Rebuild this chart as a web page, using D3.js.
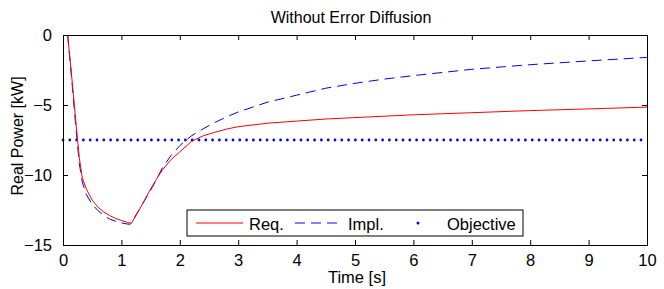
<!DOCTYPE html>
<html>
<head>
<meta charset="utf-8">
<script src="https://cdn.jsdelivr.net/npm/d3@7"></script>
<style>
  body { margin: 0; background: #fff; }
  text { font-family: "Liberation Sans", Arial, sans-serif; fill: #000; }
</style>
</head>
<body>
<svg id="chart"></svg>
<script>
// Data
var reqT = [0.08, 0.15, 0.22, 0.28, 0.33, 0.4, 0.5, 0.6, 0.7, 0.8, 0.9, 1.0, 1.1, 1.17,
            1.25, 1.37, 1.5, 1.6, 1.71, 1.85, 2.0, 2.2, 2.4, 2.6, 2.8, 3.0, 3.5, 4, 4.5, 5, 6, 7, 8, 9, 10];
var reqV = [0, -3, -6.2, -8.8, -10.2, -11, -11.8, -12.3, -12.65, -12.9, -13.1, -13.25, -13.38, -13.45,
            -12.9, -12.0, -11.0, -10.3, -9.6, -8.9, -8.35, -7.6, -7.2, -6.95, -6.72, -6.55, -6.3, -6.15, -6.0, -5.9, -5.7, -5.55, -5.4, -5.28, -5.15];

var implT = [0.08, 0.15, 0.22, 0.28, 0.33, 0.4, 0.5, 0.6, 0.7, 0.8, 0.9, 1.0, 1.1, 1.15,
             1.2, 1.3, 1.4, 1.54, 1.7, 1.85, 2.0, 2.2, 2.4, 2.6, 2.8, 3.0, 3.5, 4, 4.5, 5, 5.5, 6, 7, 8, 9, 10];
var implV = [0, -3.2, -6.6, -9.2, -10.5, -11.4, -12.1, -12.55, -12.9, -13.15, -13.3, -13.42, -13.5, -13.52,
             -13.2, -12.5, -11.8, -10.8, -9.5, -8.6, -7.9, -7.2, -6.7, -6.25, -5.85, -5.5, -4.8, -4.3, -3.8, -3.45, -3.15, -2.9, -2.45, -2.12, -1.85, -1.6];

var objT = [0, 10];
var objV = [-7.5, -7.5];

var xTicks = [0, 1, 2, 3, 4, 5, 6, 7, 8, 9, 10];
var yTicks = [0, -5, -10, -15];

var width = 664, height = 289;
var margin = {top: 35, right: 17, bottom: 44, left: 63};

var svg = d3.select("#chart")
            .attr("width", width)
            .attr("height", height);

var x = d3.scaleLinear().domain([0, 10]).range([margin.left, width - margin.right]);
var y = d3.scaleLinear().domain([-15, 0]).range([height - margin.bottom, margin.top]);

function pts(ts, vs) {
    return ts.map(function(t, i) { return [t, vs[i]]; });
}

var line = d3.line()
             .x(function(d) { return x(d[0]); })
             .y(function(d) { return y(d[1]); });

// Objective (dotted)
svg.append("path")
   .attr("d", line(pts(objT, objV)))
   .attr("fill", "none")
   .attr("stroke", "#0000ff")
   .attr("stroke-width", 2.8)
   .attr("stroke-linecap", "round")
   .attr("stroke-dasharray", "0 6.8");

// Impl. (dashed blue)
svg.append("path")
   .attr("d", line(pts(implT, implV)))
   .attr("fill", "none")
   .attr("stroke", "#0000ff")
   .attr("stroke-width", 1)
   .attr("stroke-dasharray", "10 6");

// Req. (solid red)
svg.append("path")
   .attr("d", line(pts(reqT, reqV)))
   .attr("fill", "none")
   .attr("stroke", "#ff0000")
   .attr("stroke-width", 1);

// Axes: ticks inward on all four sides
var fmt = function(d) { return d3.format("")(d).replace("-", "\u2212"); };

svg.append("g")
   .attr("transform", "translate(0," + y.range()[0] + ")")
   .call(d3.axisBottom(x).tickValues(xTicks).tickSizeInner(-5).tickSizeOuter(0).tickPadding(9).tickFormat(fmt))
   .call(function(g) { g.selectAll("text").attr("font-size", "16.5px").attr("dy", "0.71em"); });

svg.append("g")
   .attr("transform", "translate(0," + y.range()[1] + ")")
   .call(d3.axisTop(x).tickValues(xTicks).tickSizeInner(-5).tickSizeOuter(0).tickFormat(""));

svg.append("g")
   .attr("transform", "translate(" + x.range()[0] + ",0)")
   .call(d3.axisLeft(y).tickValues(yTicks).tickSizeInner(-5).tickSizeOuter(0).tickPadding(11).tickFormat(fmt))
   .call(function(g) { g.selectAll("text").attr("font-size", "16.5px"); });

svg.append("g")
   .attr("transform", "translate(" + x.range()[1] + ",0)")
   .call(d3.axisRight(y).tickValues(yTicks).tickSizeInner(-5).tickSizeOuter(0).tickFormat(""));

svg.selectAll(".domain").attr("stroke", "#000");
svg.selectAll(".tick line").attr("stroke", "#000");
svg.selectAll("g").attr("font-family", null);

// Title and axis labels
svg.append("text")
   .attr("x", (x.range()[0] + x.range()[1]) / 2 - 4)
   .attr("y", 23)
   .attr("text-anchor", "middle")
   .attr("font-size", "16px")
   .text("Without Error Diffusion");

svg.append("text")
   .attr("x", (x.range()[0] + x.range()[1]) / 2 + 2)
   .attr("y", 283)
   .attr("text-anchor", "middle")
   .attr("font-size", "16.5px")
   .text("Time [s]");

svg.append("text")
   .attr("transform", "translate(23," + 136 + ") rotate(-90)")
   .attr("text-anchor", "middle")
   .attr("font-size", "16px")
   .text("Real Power [kW]");

// Legend
var legend = svg.append("g").attr("transform", "translate(187,210)");
legend.append("rect")
      .attr("width", 336).attr("height", 26)
      .attr("fill", "#fff").attr("stroke", "#000").attr("stroke-width", 1);

legend.append("line").attr("x1", 9).attr("x2", 56).attr("y1", 13).attr("y2", 13)
      .attr("stroke", "#ff0000").attr("stroke-width", 1);
legend.append("text").attr("x", 62).attr("y", 19.5).attr("font-size", "16.5px").text("Req.");

legend.append("line").attr("x1", 108).attr("x2", 155).attr("y1", 13).attr("y2", 13)
      .attr("stroke", "#0000ff").attr("stroke-width", 1).attr("stroke-dasharray", "10 6");
legend.append("text").attr("x", 161).attr("y", 19.5).attr("font-size", "16.5px").text("Impl.");

legend.append("circle").attr("cx", 231).attr("cy", 13).attr("r", 1.5).attr("fill", "#0000ff");
legend.append("text").attr("x", 260).attr("y", 19.5).attr("font-size", "16.5px").text("Objective");
</script>
</body>
</html>
